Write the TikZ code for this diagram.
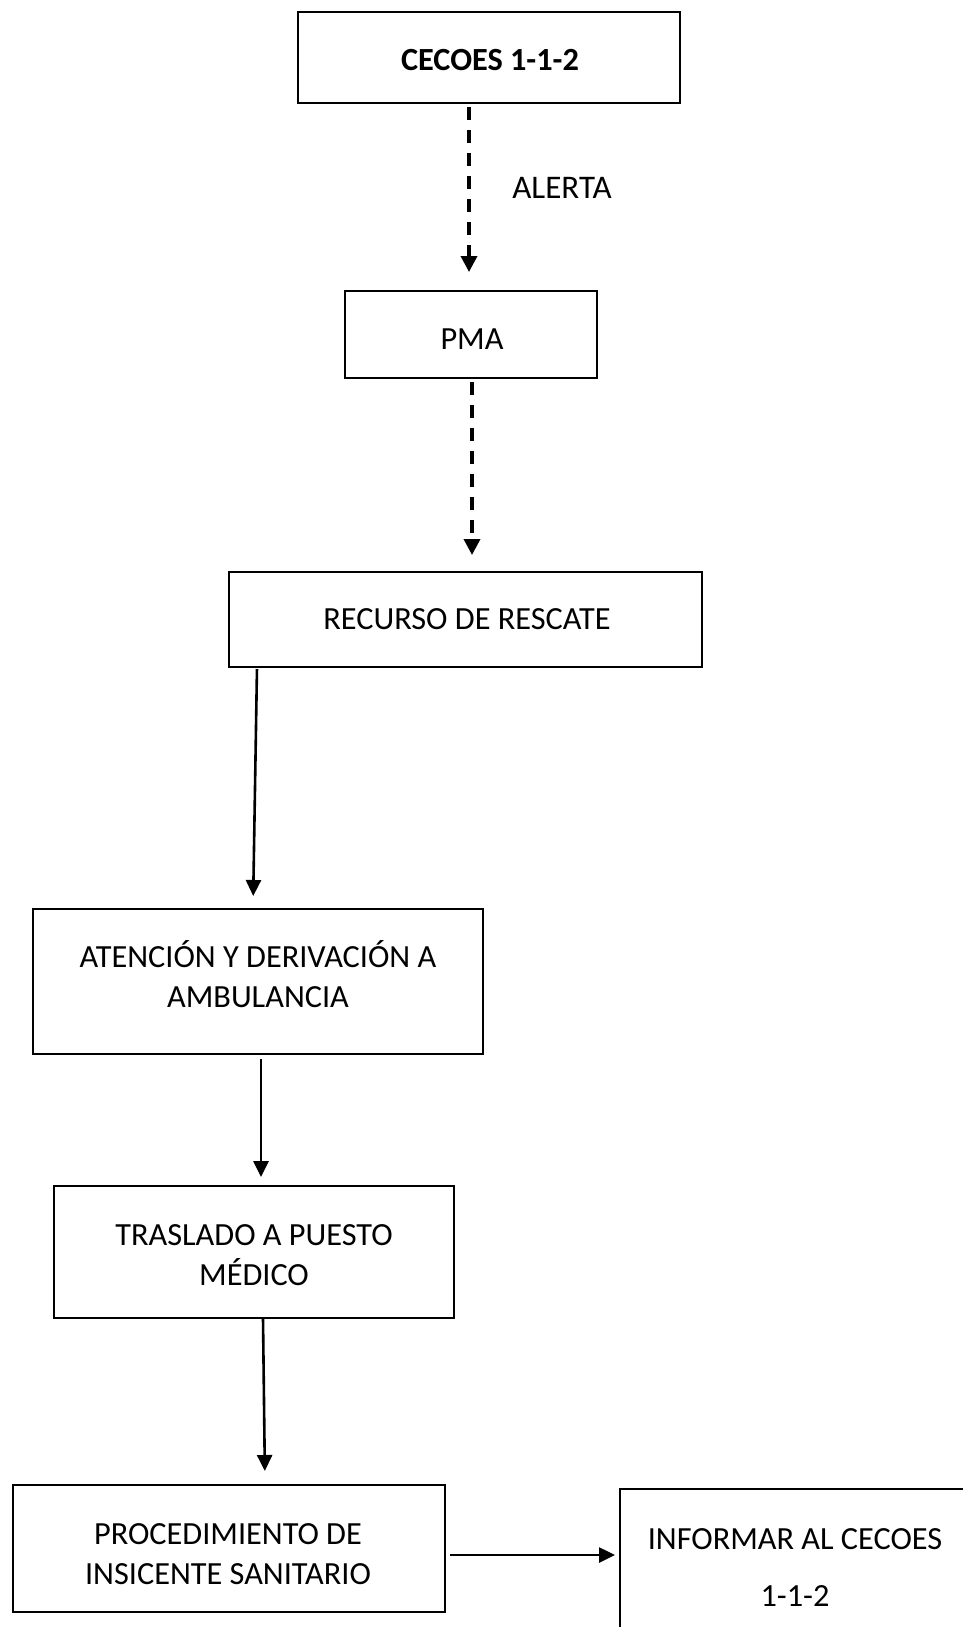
\documentclass[tikz,border=0pt]{standalone}
\usepackage{fontspec}
\setmainfont{Carlito}
\usetikzlibrary{arrows.meta}
\begin{document}
\begin{tikzpicture}[x=1pt,y=-1pt,
  box/.style={draw=black,line width=2pt,fill=white,inner sep=0pt,outer sep=0pt},
  txt/.style={inner sep=0pt,align=center,font=\fontsize{32.3}{40}\selectfont},
  dasharrow/.style={line width=3.5pt,dash pattern=on 13pt off 10pt,
    -{Triangle[width=16pt,length=16pt]}},
  solidarrow/.style={line width=2.6pt,-{Triangle[width=15pt,length=16pt]}},
  lbl/.style={inner sep=0pt,font=\fontsize{33}{40}\selectfont}]
\clip (0,0) rectangle (963,1627);
\fill[white] (0,0) rectangle (963,1627);

\node[box,minimum width=382pt,minimum height=91pt] (cecoes) at (489,57.5) {};
\node[box,minimum width=252pt,minimum height=87pt] (pma) at (471,334.5) {};
\node[box,minimum width=473pt,minimum height=95pt] (recurso) at (465.5,619.5) {};
\node[box,minimum width=450pt,minimum height=145pt] (atencion) at (258,981.5) {};
\node[box,minimum width=400pt,minimum height=132pt] (traslado) at (254,1252) {};
\node[box,minimum width=432pt,minimum height=127pt] (proc) at (229,1548.5) {};
\node[box,minimum width=350pt,minimum height=152pt] (informar) at (795,1565) {};

\node[txt,font=\fontsize{32.3}{40}\selectfont\bfseries] (cecoes-t)
  at ([xshift=1pt,yshift=-2.8pt]cecoes.center) {CECOES 1-1-2};
\node[txt] (pma-t) at ([xshift=1pt,yshift=-4.5pt]pma.center) {PMA};
\node[txt] (recurso-t) at ([xshift=1.5pt]recurso.center) {RECURSO DE RESCATE};
\node[txt] (atencion-t) at ([yshift=7pt]atencion.center) {ATENCIÓN Y DERIVACIÓN A\\AMBULANCIA};
\node[txt] (traslado-t) at ([yshift=-3.6pt]traslado.center) {TRASLADO A PUESTO\\MÉDICO};
\node[txt] (proc-t) at ([xshift=-1pt,yshift=-5.7pt]proc.center) {PROCEDIMIENTO DE\\INSICENTE SANITARIO};
\node[txt,font=\fontsize{32.3}{57}\selectfont] (informar-t)
  at ([yshift=-2pt]informar.center) {INFORMAR AL CECOES\\1-1-2};

\node[lbl] (alerta) at (562,187.5) {ALERTA};

\draw[dasharrow,shorten <=4pt,shorten >=19pt]
  ([xshift=-20pt]cecoes.south) -- ([xshift=-2pt]pma.north);
\draw[dasharrow,shorten <=4pt,shorten >=17pt]
  ([xshift=1pt]pma.south) -- ([xshift=1pt]pma.south |- recurso.north);
\draw[solidarrow,shorten <=2pt,shorten >=13pt]
  ([xshift=28pt]recurso.south west) -- ([xshift=-5pt]atencion.north);
\draw[solidarrow,shorten <=5pt,shorten >=9pt]
  ([xshift=3pt]atencion.south) -- ([xshift=7pt]traslado.north);
\draw[solidarrow,shorten <=0pt,shorten >=14pt]
  ([xshift=9pt]traslado.south) -- ([xshift=36pt]proc.north);
\coordinate (p6) at ([yshift=-6.5pt]proc.east);
\draw[solidarrow,shorten <=5pt,shorten >=5pt]
  (p6) -- (p6 -| informar.west);
\end{tikzpicture}
\end{document}
